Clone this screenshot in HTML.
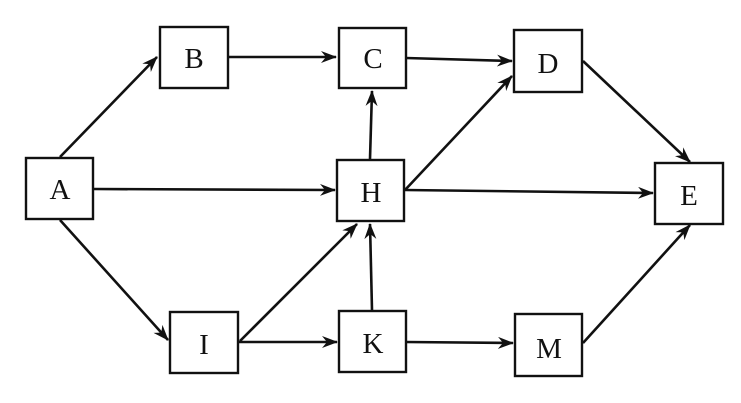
<!DOCTYPE html>
<html><head><style>body{margin:0;background:#fff}svg{display:block}</style></head>
<body>
<svg width="741" height="403" viewBox="0 0 741 403" xmlns="http://www.w3.org/2000/svg">
<defs>
<marker id="ar" viewBox="0 0 16 12" refX="15" refY="6" markerWidth="16" markerHeight="12" markerUnits="userSpaceOnUse" orient="auto">
<path d="M0,0 L16,6 L0,12 L5,6 Z" fill="#111"/>
</marker>
</defs>
<g fill="#fff" stroke="#111" stroke-width="2.4">
<rect x="26" y="158" width="67" height="61"/>
<rect x="160" y="27" width="68" height="61"/>
<rect x="339" y="28" width="67" height="60"/>
<rect x="337" y="160" width="67" height="61"/>
<rect x="170" y="312" width="68" height="61"/>
<rect x="339" y="311" width="67" height="61"/>
<rect x="514" y="30" width="68" height="62"/>
<rect x="655" y="163" width="68" height="61"/>
<rect x="515" y="314" width="67" height="62"/>
</g>
<g stroke="#111" stroke-width="2.6" fill="none" marker-end="url(#ar)">
<line x1="60" y1="157" x2="157" y2="57"/>
<line x1="229" y1="57" x2="336" y2="57"/>
<line x1="406" y1="58" x2="512" y2="61"/>
<line x1="94" y1="189" x2="335" y2="190"/>
<line x1="370" y1="159" x2="372" y2="91"/>
<line x1="405" y1="190" x2="512" y2="76"/>
<line x1="405" y1="190" x2="653" y2="193"/>
<line x1="583" y1="61" x2="690" y2="162"/>
<line x1="60" y1="220" x2="168" y2="340"/>
<line x1="240" y1="341" x2="357" y2="224"/>
<line x1="238" y1="342" x2="337" y2="342"/>
<line x1="372" y1="310" x2="370" y2="224"/>
<line x1="406" y1="342" x2="513" y2="343"/>
<line x1="583" y1="343" x2="690" y2="225"/>
</g>
<g font-family="Liberation Serif, serif" font-size="29" text-anchor="middle" fill="#111">
<text x="60" y="199">A</text>
<text x="194" y="68">B</text>
<text x="373" y="68">C</text>
<text x="371" y="202">H</text>
<text x="204" y="354">I</text>
<text x="373" y="353">K</text>
<text x="548" y="73">D</text>
<text x="689" y="205">E</text>
<text x="549" y="358">M</text>
</g>
</svg>
</body></html>
